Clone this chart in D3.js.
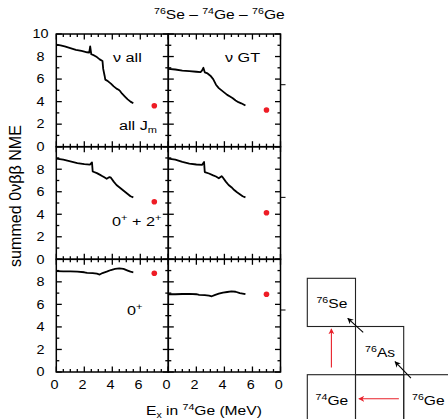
<!DOCTYPE html>
<html><head><meta charset="utf-8">
<script src="https://cdn.jsdelivr.net/npm/d3@7"></script>
<style>html,body{margin:0;padding:0;background:#fff;} svg{display:block;}</style>
</head><body>
<script>
// Summed 0νββ NME of 76Se–74Ge–76Ge versus excitation energy in 74Ge

// panel captions
const columnLabels = ["ν all", "ν GT"];
const rowLabels = ["all J_m", "0+ + 2+", "0+"];

// all J_m, ν all / ν GT
const allJ_nuAll_ex  = [0,0.3,0.6,1.0,1.4,1.8,2.2,2.35,2.42,2.5,2.7,2.9,3.1,3.3,3.35,3.45,3.5,3.7,3.9,4.1,4.3,4.45,4.55,4.7,4.9,5.1,5.3,5.5];
const allJ_nuAll_nme = [9.05,9.0,8.9,8.75,8.6,8.5,8.38,8.35,8.9,8.2,8.1,7.95,7.75,7.6,6.9,6.3,5.95,5.8,5.6,5.35,5.15,5.05,4.95,4.7,4.45,4.2,4.0,3.85];
const allJ_nuGT_ex   = [0,0.5,1.0,1.5,2.0,2.3,2.4,2.5,2.6,2.8,3.0,3.2,3.4,3.6,3.8,4.0,4.2,4.4,4.6,4.8,5.0,5.2,5.5];
const allJ_nuGT_nme  = [6.9,6.85,6.75,6.7,6.65,6.62,6.75,7.0,6.6,6.5,6.3,6.0,5.5,5.2,5.0,4.8,4.6,4.45,4.3,4.1,3.95,3.85,3.65];

// 0+ + 2+, ν all / ν GT
const j02_ex         = [0,0.5,1.0,1.5,2.0,2.4,2.55,2.6,2.9,3.2,3.4,3.6,3.8,3.9,4.1,4.3,4.5,4.7,4.9,5.1,5.3,5.5];
const j02_nuAll_nme  = [8.95,8.85,8.7,8.55,8.45,8.4,8.6,7.8,7.65,7.45,7.3,7.15,7.3,7.25,6.9,6.6,6.4,6.2,6.0,5.8,5.6,5.5];
const j02_nuGT_nme   = [8.95,8.85,8.65,8.5,8.42,8.38,8.65,7.75,7.62,7.45,7.35,7.2,7.38,7.25,6.9,6.6,6.4,6.15,5.95,5.78,5.6,5.5];

// 0+ only, ν all / ν GT
const j0_ex          = [0,0.5,1.0,1.5,2.0,2.2,2.6,2.9,3.1,3.3,3.6,3.9,4.2,4.5,4.8,5.1,5.3,5.5];
const j0_nuAll_nme   = [8.95,8.93,8.92,8.9,8.85,8.8,8.78,8.72,8.65,8.78,8.9,9.05,9.15,9.2,9.15,9.0,8.9,8.85];
const j0_nuGT_nme    = [6.9,6.9,6.92,6.93,6.9,6.85,6.82,6.78,6.72,6.82,6.95,7.05,7.1,7.15,7.12,7.0,6.95,6.9];

// reference values (red points) for ν all / ν GT
const refEx     = 7.0;
const refAllJ   = [3.64, 3.26];
const ref02     = [5.11, 4.13];
const ref0      = [8.76, 6.9];

// tick labels
const yTickValues = [0, 2, 4, 6, 8, 10];
const xTickValues = [0, 2, 4, 6];
const xTickLast   = "0";

// nuclide cells of the inset: column, row, mass number, element
const cellCols  = [0, 1, 0, 1, 2];
const cellRows  = [0, 1, 2, 2, 2];
const cellMass  = ["76", "76", "74", "", "76"];
const cellElem  = ["Se", "As", "Ge", "", "Ge"];

const W = 448, H = 419;
const SX = 1.2;            // horizontal glyph stretch
const FONT = "'Liberation Sans', Arial, Helvetica, sans-serif";

const svg = d3.select("body").append("svg").attr("width", W).attr("height", H)
  .style("font-family", FONT);

const colRanges = [[56.3, 168.3], [168.3, 280.5]];
const rowRanges = [[34, 146.7], [146.7, 259.3], [259.3, 372]];
const xs = colRanges.map(r => d3.scaleLinear().domain([0, 8]).range(r));
const ys = rowRanges.map(r => d3.scaleLinear().domain([0, 10]).range([r[1], r[0]]));

const curves = [
  [[allJ_nuAll_ex, allJ_nuAll_nme], [allJ_nuGT_ex, allJ_nuGT_nme]],
  [[j02_ex, j02_nuAll_nme], [j02_ex, j02_nuGT_nme]],
  [[j0_ex, j0_nuAll_nme], [j0_ex, j0_nuGT_nme]]
];
const refs = [refAllJ, ref02, ref0];

const xMajor = d3.range(0, 8.01, 2), xMinor = d3.range(0.5, 8, 0.5).filter(v => v % 2);
const yMajor = d3.range(0, 10.01, 2), yMinor = d3.range(1, 10, 2);

// inward tick marks along one edge
function edgeTicks(g, scale, vals, len, side, pos) {
  g.selectAll(null).data(vals).join("line")
    .attr("x1", d => side === "x" ? scale(d) : pos)
    .attr("x2", d => side === "x" ? scale(d) : pos + len)
    .attr("y1", d => side === "x" ? pos : scale(d))
    .attr("y2", d => side === "x" ? pos + len : scale(d))
    .attr("stroke", "#000").attr("stroke-width", 1.3);
}

// stretched text helper
function stext(parent, x, y, anchor, size, parts) {
  const t = parent.append("text")
    .attr("transform", `translate(${x},${y}) scale(${SX},1)`)
    .attr("text-anchor", anchor).attr("font-size", size).attr("fill", "#000");
  parts.forEach(p => {
    const ts = t.append("tspan").text(p.t);
    if (p.sup) ts.attr("font-size", size * 0.68).attr("dy", -size * 0.38);
    else if (p.sub) ts.attr("font-size", size * 0.68).attr("dy", size * 0.25);
    else if (p.back) ts.attr("dy", p.back);
  });
  return t;
}

for (let r = 0; r < 3; r++) {
  for (let c = 0; c < 2; c++) {
    const x = xs[c], y = ys[r];
    const g = svg.append("g");
    const x0 = x.range()[0], x1 = x.range()[1];
    const y0 = y.range()[1], y1 = y.range()[0];
    // ticks on all four sides, pointing inward
    edgeTicks(g, x, xMajor, 5.5, "x", y0);
    edgeTicks(g, x, xMinor, 3, "x", y0);
    edgeTicks(g, x, xMajor, -5.5, "x", y1);
    edgeTicks(g, x, xMinor, -3, "x", y1);
    edgeTicks(g, y, yMajor, 5.5, "y", x0);
    edgeTicks(g, y, yMinor, 3, "y", x0);
    edgeTicks(g, y, yMajor, -5.5, "y", x1);
    edgeTicks(g, y, yMinor, -3, "y", x1);
    g.append("rect").attr("x", x0).attr("y", y0).attr("width", x1 - x0).attr("height", y1 - y0)
      .attr("fill", "none").attr("stroke", "#000").attr("stroke-width", 1.5);

    const [ex, nme] = curves[r][c];
    const line = d3.line().x((d, i) => x(ex[i])).y(d => y(d));
    g.append("path").datum(nme).attr("d", line)
      .attr("fill", "none").attr("stroke", "#000").attr("stroke-width", 1.8)
      .attr("stroke-linejoin", "round");

    g.append("circle").attr("cx", x(refEx)).attr("cy", y(refs[r][c])).attr("r", 2.8)
      .attr("fill", "#ee1c25");
  }
  // small outward mark on the right edge
  svg.append("line").attr("x1", xs[1].range()[1]).attr("x2", xs[1].range()[1] + 5)
    .attr("y1", ys[r](5.5)).attr("y2", ys[r](5.5)).attr("stroke", "#000").attr("stroke-width", 1);

  // y tick labels
  const labels = r === 0 ? yTickValues : yTickValues.filter(v => v < 10);
  labels.forEach(v => {
    stext(svg, 40.5, ys[r](v) + 4.3, "middle", 12, [{t: String(v)}]);
  });
}

// x tick labels
[0, 1].forEach(c => {
  xTickValues.forEach(v => stext(svg, xs[c](v) - 1.8, 388.5, "middle", 12, [{t: String(v)}]));
});
stext(svg, xs[1](8) - 1.8, 388.5, "middle", 12, [{t: xTickLast}]);

// panel captions
stext(svg, 113, 62, "start", 13.5, [{t: columnLabels[0]}]);
stext(svg, 225, 62, "start", 13.5, [{t: columnLabels[1]}]);
stext(svg, 119, 130, "start", 13.5, [{t: "all J"}, {t: "m", sub: true}]);
stext(svg, 112, 226, "start", 13.5, [{t: "0"}, {t: "+", sup: true}, {t: " + 2", back: 13.5 * 0.38}, {t: "+", sup: true}]);
stext(svg, 127, 315, "start", 13.5, [{t: "0"}, {t: "+", sup: true}]);

// title
stext(svg, 154, 19, "start", 13, [
  {t: "76", sup: true}, {t: "Se – ", back: 13 * 0.38},
  {t: "74", sup: true}, {t: "Ge – ", back: 13 * 0.38},
  {t: "76", sup: true}, {t: "Ge", back: 13 * 0.38}
]);

// axis titles
stext(svg, 146, 415, "start", 13, [
  {t: "E"}, {t: "x", sub: true}, {t: " in ", back: -13 * 0.25},
  {t: "74", sup: true}, {t: "Ge (MeV)", back: 13 * 0.38}
]);
svg.append("text")
  .attr("transform", "translate(20.5,196) rotate(-90) scale(1.24,1.3)")
  .attr("text-anchor", "middle").attr("font-size", 13).attr("fill", "#000")
  .text("summed 0νββ NME");

// inset: nuclide chart with decay paths
const cell = 48.2;
const gx = d3.scaleLinear().domain([0, 1]).range([307.3, 307.3 + cell]);
const gy = d3.scaleLinear().domain([0, 1]).range([278.3, 278.3 + cell]);
const inset = svg.append("g");
cellCols.forEach((col, i) => {
  inset.append("rect").attr("x", gx(col)).attr("y", gy(cellRows[i]))
    .attr("width", cell).attr("height", cell)
    .attr("fill", "none").attr("stroke", "#222").attr("stroke-width", 1.1);
});
cellCols.forEach((col, i) => {
  if (!cellElem[i]) return;
  stext(inset, gx(col + 0.5) + 0.5, gy(cellRows[i] + 0.5) + 6, "middle", 13,
    [{t: cellMass[i], sup: true}, {t: cellElem[i], back: 13 * 0.38}]);
});

const defs = svg.append("defs");
[["headRed", "#e8202a"], ["headBlack", "#000"]].forEach(([id, col]) => {
  defs.append("marker").attr("id", id).attr("viewBox", "0 0 10 10")
    .attr("refX", 9).attr("refY", 5).attr("markerWidth", 6).attr("markerHeight", 6)
    .attr("markerUnits", "userSpaceOnUse").attr("orient", "auto")
    .append("path").attr("d", "M0,0 L10,5 L0,10 L3,5 Z").attr("fill", col);
});
function arrow(x1, y1, x2, y2, id, col) {
  inset.append("line").attr("x1", x1).attr("y1", y1).attr("x2", x2).attr("y2", y2)
    .attr("stroke", col).attr("stroke-width", 1.1).attr("marker-end", `url(#${id})`);
}
arrow(gx(0.5), gy(1.85), gx(0.5), gy(1.05), "headRed", "#e8202a");
arrow(gx(1.9), gy(2.5), gx(1.07), gy(2.5), "headRed", "#e8202a");
arrow(gx(2.15), gy(2.07), gx(1.82), gy(1.73), "headBlack", "#000");
arrow(gx(1.16), gy(1.12), gx(0.84), gy(0.83), "headBlack", "#000");
</script>
</body></html>
